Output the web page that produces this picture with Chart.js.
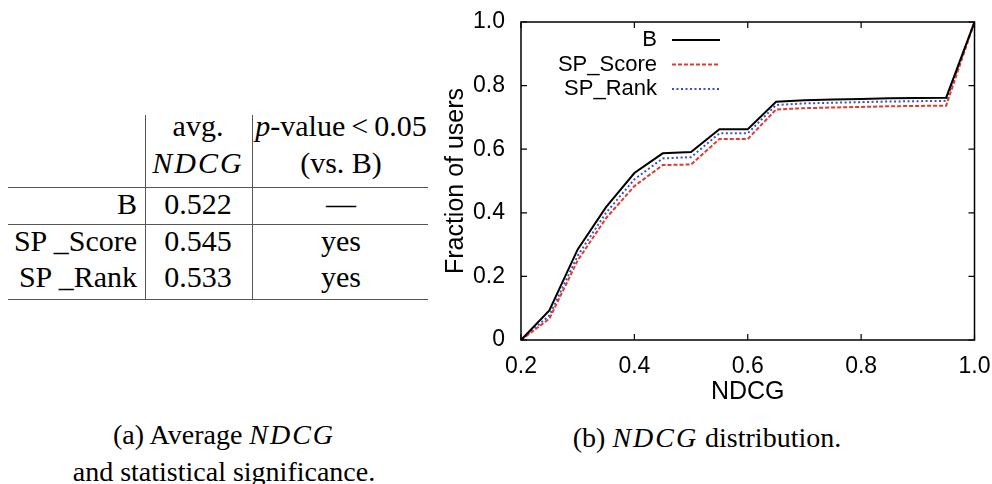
<!DOCTYPE html>
<html><head><meta charset="utf-8">
<script src="https://cdn.jsdelivr.net/npm/chart.js@4.4.0/dist/chart.umd.min.js"></script>
<style>
html,body{margin:0;padding:0;background:#fff;}
body{width:992px;height:484px;position:relative;overflow:hidden;font-family:"Liberation Serif","Times New Roman",serif;color:#000;}
.cell{position:absolute;font-size:30px;line-height:36px;white-space:nowrap;}
.vl{position:absolute;width:1px;background:#555;top:115px;height:184px;}
.hl{position:absolute;height:1px;background:#555;left:8px;width:420px;}
.m{font-style:italic;letter-spacing:0.07em;}
.cap{position:absolute;font-size:28px;line-height:37px;text-align:center;white-space:nowrap;width:440px;}
#wrap{position:absolute;left:440px;top:0;width:552px;height:410px;}
</style></head><body>
<div id="tbl"></div>
<div class="cap" style="left:4px;top:416px;">(a) Average <span class="m">NDCG</span></div>
<div class="cap" style="left:4px;top:453px;">and statistical significance.</div>
<div class="cap" style="left:487px;top:419px;">(b) <span class="m">NDCG</span> distribution.</div>
<div id="wrap"><canvas id="c" width="552" height="410"></canvas></div>
<script>
// ---- table data ----
const methods = ['B', 'SP _Score', 'SP _Rank'];
const avgNdcg = ['0.522', '0.545', '0.533'];
const significance = ['\u2014', 'yes', 'yes'];

// ---- chart data ----
const ndcgX = [0.2, 0.25, 0.3, 0.35, 0.4, 0.45, 0.5, 0.55, 0.6, 0.65, 0.7, 0.75, 0.8, 0.85, 0.9, 0.95, 1.0];
const seriesB     = [0, 0.093, 0.285, 0.418, 0.525, 0.587, 0.591, 0.663, 0.663, 0.749, 0.754, 0.756, 0.758, 0.760, 0.761, 0.762, 1.0];
const seriesScore = [0, 0.067, 0.250, 0.383, 0.484, 0.550, 0.552, 0.632, 0.632, 0.725, 0.729, 0.731, 0.733, 0.735, 0.736, 0.737, 1.0];
const seriesRank  = [0, 0.077, 0.265, 0.400, 0.505, 0.571, 0.575, 0.650, 0.650, 0.739, 0.744, 0.746, 0.748, 0.750, 0.751, 0.752, 1.0];
const seriesLabels = ['B', 'SP_Score', 'SP_Rank'];
const xTickValues = [0.2, 0.4, 0.6, 0.8, 1.0];
const xTickLabels = ['0.2', '0.4', '0.6', '0.8', '1.0'];
const yTickValues = [0, 0.2, 0.4, 0.6, 0.8, 1.0];
const yTickLabels = ['0', '0.2', '0.4', '0.6', '0.8', '1.0'];

// ---- build table ----
(function(){
  const t = document.getElementById('tbl');
  const add = (html, style) => { const d = document.createElement('div'); d.className = 'cell'; d.innerHTML = html; d.setAttribute('style', style); t.appendChild(d); };
  const col1R = 992 - 137, col2L = 146, col2W = 104, col3L = 254, col3W = 174;
  add('avg.', `left:${col2L}px;width:${col2W}px;text-align:center;top:108px;`);
  add('<span class="m">NDCG</span>', `left:${col2L}px;width:${col2W}px;text-align:center;top:145px;`);
  add('<i>p</i>-value&thinsp;&lt;&thinsp;0.05', `left:${col3L}px;width:${col3W}px;text-align:center;top:108px;`);
  add('(vs. B)', `left:${col3L}px;width:${col3W}px;text-align:center;top:145px;`);
  const rowTops = [186, 223, 259];
  methods.forEach((m, i) => {
    add(m, `right:${col1R}px;text-align:right;top:${rowTops[i]}px;`);
    add(avgNdcg[i], `left:${col2L}px;width:${col2W}px;text-align:center;top:${rowTops[i]}px;`);
    add(significance[i], `left:${col3L}px;width:${col3W}px;text-align:center;top:${rowTops[i]}px;`);
  });
  const mk = (cls, style) => { const d = document.createElement('div'); d.className = cls; d.setAttribute('style', style); t.appendChild(d); };
  mk('vl', 'left:145px;');
  mk('vl', 'left:252px;');
  mk('hl', 'top:187px;');
  mk('hl', 'top:224px;');
  mk('hl', 'top:299px;');
})();

// ---- chart ----
const frameTicks = {
  id: 'frameTicks',
  afterDatasetsDraw(chart) {
    const {ctx, chartArea: a, scales: {x, y}} = chart;
    ctx.save();
    ctx.strokeStyle = '#000';
    ctx.lineWidth = 1.5;
    ctx.setLineDash([]);
    ctx.strokeRect(a.left, a.top, a.right - a.left, a.bottom - a.top);
    const L = 6;
    ctx.lineWidth = 1.2;
    ctx.beginPath();
    xTickValues.forEach(v => {
      const px = x.getPixelForValue(v);
      ctx.moveTo(px, a.bottom); ctx.lineTo(px, a.bottom - L);
      ctx.moveTo(px, a.top); ctx.lineTo(px, a.top + L);
    });
    yTickValues.forEach(v => {
      const py = y.getPixelForValue(v);
      ctx.moveTo(a.left, py); ctx.lineTo(a.left + L, py);
      ctx.moveTo(a.right, py); ctx.lineTo(a.right - L, py);
    });
    ctx.stroke();
    ctx.restore();
  }
};
const insideLegend = {
  id: 'insideLegend',
  afterDatasetsDraw(chart, args, opts) {
    const {ctx, chartArea: a} = chart;
    ctx.save();
    ctx.font = opts.font;
    ctx.textAlign = 'right';
    ctx.textBaseline = 'middle';
    chart.data.datasets.forEach((ds, i) => {
      const yy = a.top + opts.top + i * opts.spacing;
      ctx.fillStyle = '#000';
      ctx.fillText(ds.label, a.left + opts.textRight, yy);
      ctx.strokeStyle = ds.borderColor;
      ctx.lineWidth = ds.borderWidth;
      ctx.setLineDash(ds.borderDash || []);
      ctx.beginPath();
      ctx.moveTo(a.left + opts.lineStart, yy);
      ctx.lineTo(a.left + opts.lineEnd, yy);
      ctx.stroke();
    });
    ctx.restore();
  }
};

const toPts = arr => ndcgX.map((xv, i) => ({x: xv, y: arr[i]}));
const sansFont = '"Liberation Sans", Arial, Helvetica, sans-serif';
const hiddenTickGrid = len => ({display: true, drawOnChartArea: false, drawTicks: true, tickLength: len, tickColor: 'rgba(0,0,0,0)', color: 'rgba(0,0,0,0)'});

new Chart(document.getElementById('c'), {
  type: 'line',
  data: {
    datasets: [
      {label: seriesLabels[0], data: toPts(seriesB), borderColor: '#000000', borderWidth: 2, borderDash: [], pointRadius: 0, tension: 0, fill: false},
      {label: seriesLabels[1], data: toPts(seriesScore), borderColor: '#e23a2e', borderWidth: 2, borderDash: [4, 2], pointRadius: 0, tension: 0, fill: false},
      {label: seriesLabels[2], data: toPts(seriesRank), borderColor: '#3b4fc4', borderWidth: 2, borderDash: [2, 2.5], pointRadius: 0, tension: 0, fill: false}
    ]
  },
  options: {
    responsive: false,
    animation: false,
    devicePixelRatio: 1,
    layout: {padding: {left: 0, top: 22, right: 17.5, bottom: 3}},
    plugins: {
      legend: {display: false},
      tooltip: {enabled: false},
      insideLegend: {font: '22px ' + sansFont, top: 18, spacing: 24.5, textRight: 136, lineStart: 151, lineEnd: 199}
    },
    scales: {
      x: {
        type: 'linear', min: 0.2, max: 1.0,
        grid: hiddenTickGrid(13), border: {display: false},
        afterBuildTicks: s => { s.ticks = xTickValues.map(v => ({value: v})); },
        afterFit: s => { s.height = 67; },
        ticks: {autoSkip: false, maxRotation: 0, padding: 0, color: '#000', font: {family: sansFont, size: 23},
          callback: (v, i) => xTickLabels[i]},
        title: {display: true, text: 'NDCG', color: '#000', font: {family: sansFont, size: 25}, padding: 0}
      },
      y: {
        min: 0, max: 1.0,
        grid: hiddenTickGrid(16), border: {display: false},
        afterBuildTicks: s => { s.ticks = yTickValues.map(v => ({value: v})); },
        afterFit: s => { s.width = 81; },
        ticks: {autoSkip: false, padding: 0, color: '#000', font: {family: sansFont, size: 23},
          callback: (v, i) => yTickLabels[i]},
        title: {display: true, text: 'Fraction of users', color: '#000', font: {family: sansFont, size: 25}, padding: {top: 1, bottom: 0}}
      }
    }
  },
  plugins: [frameTicks, insideLegend]
});
</script>
</body></html>
